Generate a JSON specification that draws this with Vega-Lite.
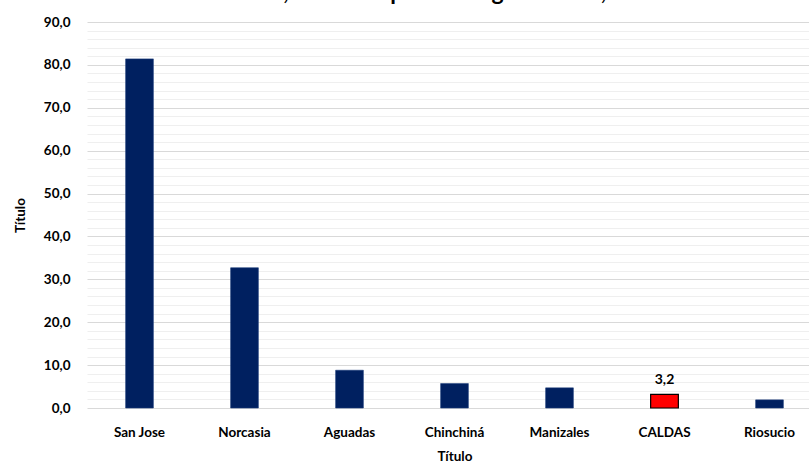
{
  "$schema": "https://vega.github.io/schema/vega-lite/v6.json",
  "autosize": {"type": "none"},
  "padding": {"left": 87, "top": 22, "right": 0, "bottom": 57},
  "width": 735,
  "height": 386,
  "background": "white",
  "title": {
    "text": "Caldas, semana epidemiológica 1 a 52, 2019",
    "font": "Lato",
    "fontSize": 23,
    "fontWeight": "bold",
    "color": "#000000",
    "anchor": "middle",
    "dx": -14,
    "baseline": "alphabetic",
    "offset": -8
  },
  "config": {
    "font": "Lato",
    "view": {"stroke": null},
    "locale": {
      "number": {"decimal": ",", "thousands": ".", "grouping": [3], "currency": ["$", ""]}
    }
  },
  "data": {
    "values": [
      {"municipio": "San Jose", "tasa": 81.4},
      {"municipio": "Norcasia", "tasa": 32.7},
      {"municipio": "Aguadas", "tasa": 8.8},
      {"municipio": "Chinchiná", "tasa": 5.7},
      {"municipio": "Manizales", "tasa": 4.7},
      {"municipio": "CALDAS", "tasa": 3.2},
      {"municipio": "Riosucio", "tasa": 1.9}
    ]
  },
  "encoding": {
    "x": {
      "field": "municipio",
      "type": "nominal",
      "sort": null,
      "scale": {"paddingInner": 0.736, "paddingOuter": 0.368},
      "axis": {
        "title": "Título",
        "titleFont": "Lato",
        "titleFontSize": 13.5,
        "titleFontWeight": "bold",
        "titleColor": "#000000",
        "titlePadding": 11,
        "labelFont": "Lato",
        "labelFontSize": 13.5,
        "labelFontWeight": "bold",
        "labelColor": "#000000",
        "labelAngle": 0,
        "labelPadding": 17,
        "ticks": false,
        "domain": false
      }
    }
  },
  "layer": [
    {
      "mark": {"type": "bar"},
      "encoding": {
        "y": {
          "field": "tasa",
          "type": "quantitative",
          "scale": {"domain": [0, 90], "nice": false},
          "axis": {
            "orient": "left",
            "values": [2,4,6,8,12,14,16,18,22,24,26,28,32,34,36,38,42,44,46,48,52,54,56,58,62,64,66,68,72,74,76,78,82,84,86,88],
            "grid": true,
            "gridColor": "#efefef",
            "gridWidth": 1,
            "labels": false,
            "ticks": false,
            "domain": false,
            "title": null
          }
        },
        "color": {
          "condition": {"test": "datum.municipio === 'CALDAS'", "value": "#FF0000"},
          "value": "#002060"
        },
        "stroke": {
          "condition": {"test": "datum.municipio === 'CALDAS'", "value": "#000000"},
          "value": "#1a3a78"
        },
        "strokeWidth": {
          "condition": {"test": "datum.municipio === 'CALDAS'", "value": 1.2},
          "value": 0.6
        }
      }
    },
    {
      "transform": [{"filter": "datum.municipio === 'CALDAS'"}],
      "mark": {
        "type": "text",
        "baseline": "bottom",
        "dy": -7,
        "font": "Lato",
        "fontSize": 14,
        "fontWeight": "bold",
        "color": "#000000"
      },
      "encoding": {
        "y": {
          "field": "tasa",
          "type": "quantitative",
          "axis": {
            "orient": "left",
            "values": [0, 10, 20, 30, 40, 50, 60, 70, 80, 90],
            "format": ".1f",
            "grid": true,
            "gridColor": "#d9d9d9",
            "gridWidth": 1,
            "ticks": false,
            "domain": false,
            "labelFont": "Lato",
            "labelFontSize": 13.5,
            "labelFontWeight": "bold",
            "labelColor": "#000000",
            "labelPadding": 17,
            "title": "Título",
            "titleFont": "Lato",
            "titleFontSize": 13.5,
            "titleFontWeight": "bold",
            "titleColor": "#000000",
            "titlePadding": 16
          }
        },
        "text": {
          "field": "tasa",
          "type": "quantitative",
          "format": ".1f"
        }
      }
    }
  ],
  "resolve": {"scale": {"y": "shared"}, "axis": {"y": "independent"}}
}
